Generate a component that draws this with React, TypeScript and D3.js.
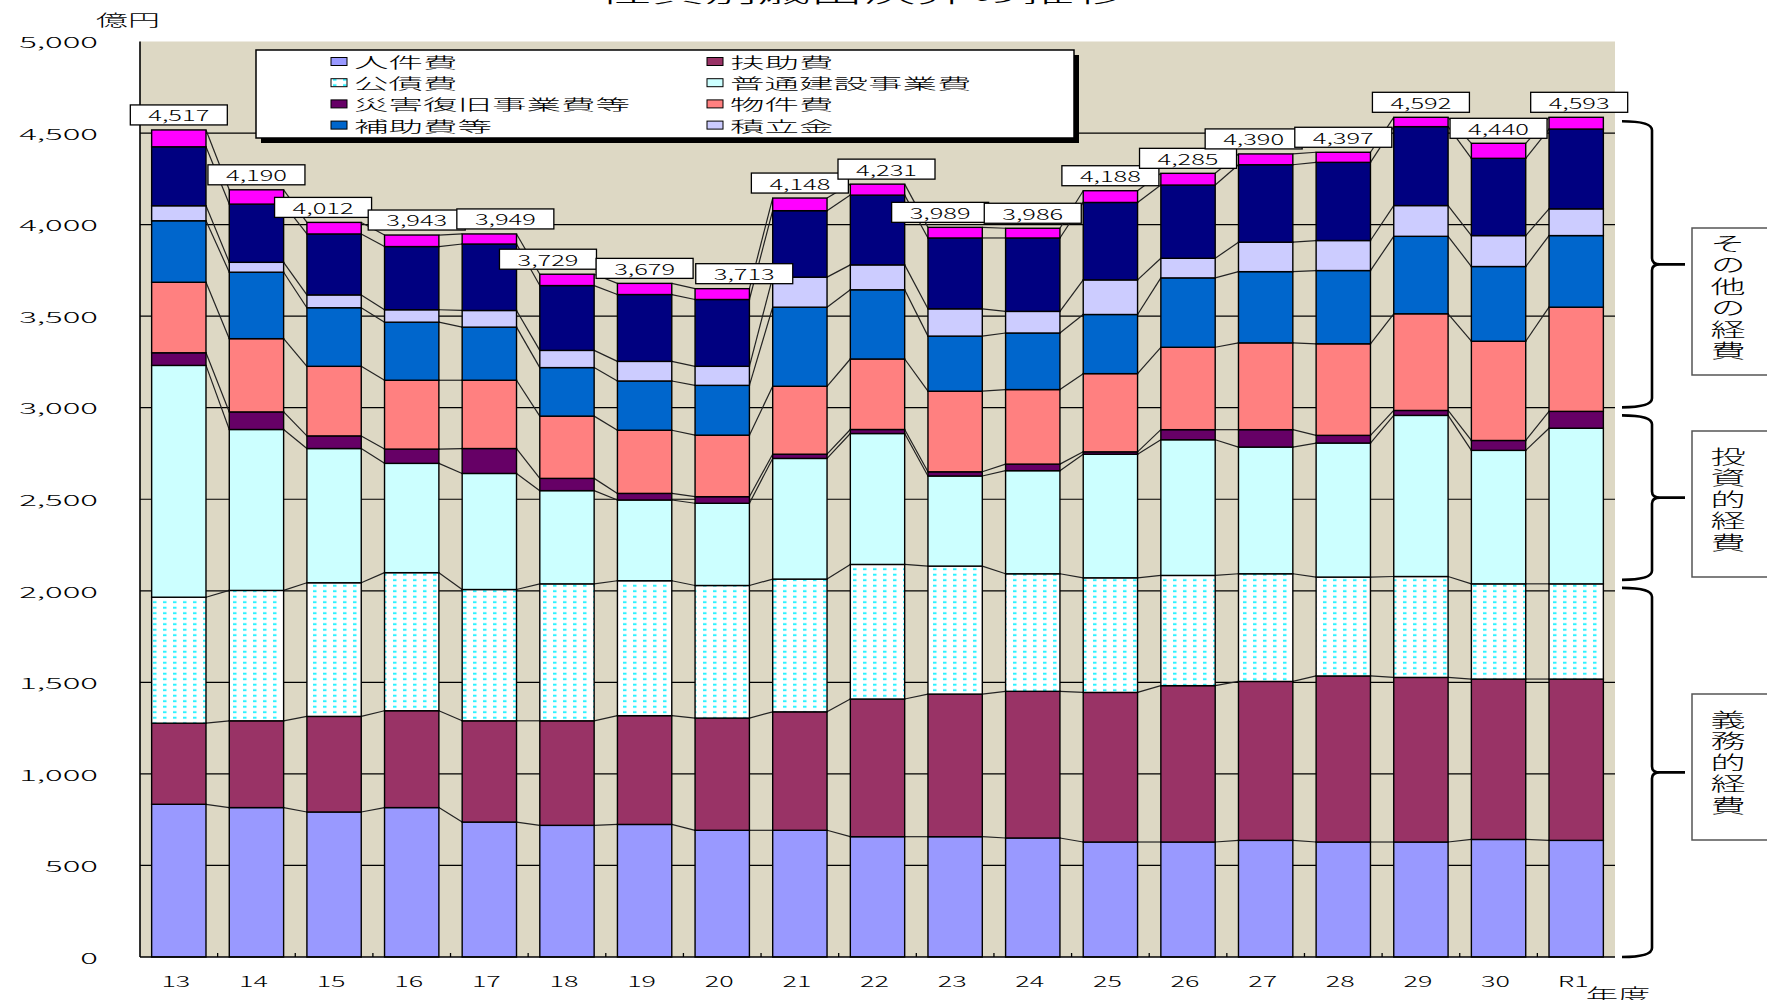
import React from 'react';
import * as d3 from 'd3';

// fiscal years (平成13 .. 令和元)
const years = ['13', '14', '15', '16', '17', '18', '19', '20', '21', '22', '23', '24', '25', '26', '27', '28', '29', '30', 'R1'];

// 億円, bottom to top of each bar
const jinkenhi = [834, 816, 792, 816, 737, 719, 724, 692, 692, 657, 657, 650, 628, 628, 637, 628, 628, 642, 637];
const fujohi = [443, 474, 522, 529, 553, 571, 594, 613, 647, 752, 779, 801, 817, 854, 868, 907, 899, 876, 881];
const kosaihi = [688, 712, 730, 754, 717, 748, 737, 724, 725, 735, 699, 642, 626, 602, 588, 540, 551, 520, 520];
const futsuKensetsu = [1266, 879, 733, 597, 634, 509, 441, 449, 659, 715, 492, 563, 675, 741, 692, 732, 880, 729, 850];
const saigai = [69, 96, 69, 78, 136, 67, 36, 36, 23, 22, 23, 36, 13, 55, 95, 42, 27, 54, 92];
const bukkenhi = [385, 400, 380, 376, 373, 340, 345, 336, 371, 385, 440, 407, 427, 450, 474, 500, 528, 542, 569];
const hojohi = [336, 363, 320, 317, 290, 265, 269, 272, 432, 378, 301, 309, 323, 379, 389, 400, 423, 408, 391];
const tsumitate = [82, 54, 70, 68, 91, 94, 107, 104, 164, 136, 149, 118, 189, 107, 161, 164, 168, 169, 146];
const kuridashi = [322, 318, 333, 345, 363, 354, 365, 365, 363, 381, 387, 401, 423, 400, 423, 427, 431, 422, 436];
const sonota = [92, 78, 63, 63, 55, 62, 61, 59, 69, 60, 58, 53, 64, 64, 59, 55, 51, 82, 64];

// printed totals above the bars
const totals = [4517, 4190, 4012, 3943, 3949, 3729, 3679, 3713, 4148, 4231, 3989, 3986, 4188, 4285, 4390, 4397, 4592, 4440, 4593];

const yTicks = [0, 500, 1000, 1500, 2000, 2500, 3000, 3500, 4000, 4500, 5000];

const series = [
  { key: '人件費', values: jinkenhi, fill: '#9999ff', legend: true },
  { key: '扶助費', values: fujohi, fill: '#993366', legend: true },
  { key: '公債費', values: kosaihi, fill: 'url(#dots)', legend: true },
  { key: '普通建設事業費', values: futsuKensetsu, fill: '#ccffff', legend: true },
  { key: '災害復旧事業費等', values: saigai, fill: '#660066', legend: true },
  { key: '物件費', values: bukkenhi, fill: '#ff8080', legend: true },
  { key: '補助費等', values: hojohi, fill: '#0066cc', legend: true },
  { key: '積立金', values: tsumitate, fill: '#ccccff', legend: true },
  { key: '繰出金', values: kuridashi, fill: '#000080', legend: false },
  { key: 'その他', values: sonota, fill: '#ff00ff', legend: false },
];

// brace groups: [first series index, last series index]
const groups = [
  { name: '義務的経費', from: 0, to: 2 },
  { name: '投資的経費', from: 3, to: 4 },
  { name: 'その他の経費', from: 5, to: 9 },
];
const groupBoxes = [
  { top: 694, bottom: 840 },
  { top: 431, bottom: 577 },
  { top: 228, bottom: 375 },
];

// the total labels were hand-placed in the original, a few sit off-centre (px)
const labelNudge = [0, 0, -11, 5, 16, -19, 0, 22, 0, 9, -15, 0, 0, 0, -12, 0, 0, 0, 3];

const FONT = '"Noto Sans CJK JP", "Noto Sans", sans-serif';

function SText({ x, y, sx = 2, size = 15, anchor = 'middle', children }: any) {
  return (
    <text
      transform={`translate(${x},${y}) scale(${sx},1)`}
      fontSize={size}
      fontWeight={300}
      textAnchor={anchor}
      dominantBaseline="central"
      fontFamily={FONT}
      fill="#000"
    >
      {children}
    </text>
  );
}

export default function App() {
  const width = 1767;
  const height = 1000;
  const plot = { left: 140, right: 1615, top: 41.5, bottom: 957 };

  const x = d3.scaleBand().domain(years).range([plot.left, plot.right]).paddingInner(0.3).paddingOuter(0.15);
  const y = d3.scaleLinear().domain([0, 5000]).range([plot.bottom, plot.top]);
  const bw = x.bandwidth();
  const step = x.step();

  const rows = years.map((yr, i) => {
    const r: any = { year: yr };
    series.forEach((s) => (r[s.key] = s.values[i]));
    return r;
  });
  const stacked = d3.stack().keys(series.map((s) => s.key))(rows as any);
  const fmt = d3.format(',');

  // series lines between neighbouring bars
  const connectors: any[] = [];
  stacked.forEach((layer, li) => {
    for (let i = 0; i < years.length - 1; i++) {
      connectors.push(
        <line
          key={`c${li}-${i}`}
          x1={x(years[i])! + bw}
          y1={y(layer[i][1])}
          x2={x(years[i + 1])!}
          y2={y(layer[i + 1][1])}
          stroke="#222"
          strokeWidth={1.2}
        />
      );
    }
  });

  const last = years.length - 1;
  const braceX = 1652;

  const legendItems = series.filter((s) => s.legend);

  return (
    <svg width={width} height={height} style={{ position: 'absolute', left: 0, top: 0, background: '#fff' }}>
      <defs>
        <pattern id="dots" width={10} height={5.5} patternUnits="userSpaceOnUse">
          <rect width={10} height={5.5} fill="#fff" />
          <rect x={3} y={1.7} width={3.5} height={2} fill="#2ef2ff" />
        </pattern>
      </defs>

      {/* title (mostly above the frame) */}
      <SText x={863} y={-9} sx={2.2} size={24}>性質別歳出決算の推移</SText>

      {/* plot background */}
      <rect x={plot.left} y={plot.top} width={plot.right - plot.left} height={plot.bottom - plot.top} fill="#ddd8c4" />

      {/* gridlines */}
      {yTicks.filter((t) => t > 0 && t < 5000).map((t) => (
        <line key={`g${t}`} x1={plot.left} x2={plot.right} y1={y(t)} y2={y(t)} stroke="#000" strokeWidth={1.2} />
      ))}

      {connectors}

      {/* bars */}
      {stacked.map((layer, li) => (
        <g key={series[li].key}>
          {layer.map((d, i) => (
            <rect
              key={i}
              x={x(years[i])}
              y={y(d[1])}
              width={bw}
              height={y(d[0]) - y(d[1])}
              fill={series[li].fill}
              stroke="#000"
              strokeWidth={1.4}
            />
          ))}
        </g>
      ))}

      {/* axes */}
      <line x1={plot.left} x2={plot.left} y1={plot.top} y2={plot.bottom} stroke="#000" strokeWidth={1.6} />
      <line x1={plot.left} x2={plot.right} y1={plot.bottom} y2={plot.bottom} stroke="#000" strokeWidth={1.6} />
      {years.slice(1).map((yr, i) => (
        <line key={`t${i}`} x1={plot.left + step * (i + 1)} x2={plot.left + step * (i + 1)} y1={plot.bottom} y2={plot.bottom - 4} stroke="#000" strokeWidth={1.3} />
      ))}

      {yTicks.map((t) => (
        <SText key={`yl${t}`} x={98} y={y(t)} sx={2.2} size={15} anchor="end">{fmt(t)}</SText>
      ))}
      {years.map((yr) => (
        <SText key={`xl${yr}`} x={x(yr)! + bw / 2 - 3} y={980} sx={1.8} size={15}>{yr}</SText>
      ))}
      <SText x={128} y={19} sx={2.0} size={16}>億円</SText>
      <SText x={1618} y={994} sx={1.8} size={18}>年度</SText>

      {/* total labels */}
      {years.map((yr, i) => {
        const top = y(stacked[stacked.length - 1][i][1]);
        const cx = x(yr)! + bw / 2 + labelNudge[i];
        return (
          <g key={`lab${yr}`}>
            <rect x={cx - 48.5} y={top - 25} width={97} height={20} fill="#fff" stroke="#000" strokeWidth={1.3} />
            <SText x={cx} y={top - 15} sx={1.7} size={15}>{fmt(totals[i])}</SText>
          </g>
        );
      })}

      {/* legend */}
      <rect x={261} y={55} width={818} height={88} fill="#000" />
      <rect x={256} y={50} width={818} height={88} fill="#fff" stroke="#000" strokeWidth={1.5} />
      {legendItems.map((s, i) => {
        const col = i % 2;
        const row = Math.floor(i / 2);
        const lx = col === 0 ? 331 : 707;
        const ly = 61.5 + row * 21.2;
        return (
          <g key={`lg${s.key}`}>
            <rect x={lx} y={ly - 4} width={16} height={8} fill={s.fill} stroke="#000" strokeWidth={1} />
            <SText x={lx + 23} y={ly} sx={2.3} size={15} anchor="start">{s.key}</SText>
          </g>
        );
      })}

      {/* braces for expense groups, aligned to the last bar */}
      {groups.map((g, gi) => {
        const lo = stacked[g.from][last][0];
        const hi = stacked[g.to][last][1];
        const y1 = y(hi) + 4;
        const y2 = lo === 0 ? y(0) : y(lo) - 4;
        const ym = (y1 + y2) / 2;
        const p = `M1622,${y1} Q${braceX},${y1} ${braceX},${y1 + 9} L${braceX},${ym - 6} Q${braceX},${ym} ${braceX + 8},${ym} L1685,${ym} M${braceX + 8},${ym} Q${braceX},${ym} ${braceX},${ym + 6} L${braceX},${y2 - 9} Q${braceX},${y2} 1622,${y2}`;
        const box = groupBoxes[gi];
        const cy = (box.top + box.bottom) / 2 - 3;
        return (
          <g key={`br${g.name}`}>
            <path d={p} fill="none" stroke="#000" strokeWidth={2.6} />
            <rect x={1692} y={box.top} width={100} height={box.bottom - box.top} fill="#fff" stroke="#555" strokeWidth={1.5} />
            <text
              transform={`translate(1728,${cy}) scale(1.85,1)`}
              writingMode="vertical-rl"
              textAnchor="middle"
              fontSize={19}
              fontWeight={300}
              letterSpacing={2.5}
              fontFamily={FONT}
              fill="#000"
            >
              {g.name}
            </text>
          </g>
        );
      })}
    </svg>
  );
}
